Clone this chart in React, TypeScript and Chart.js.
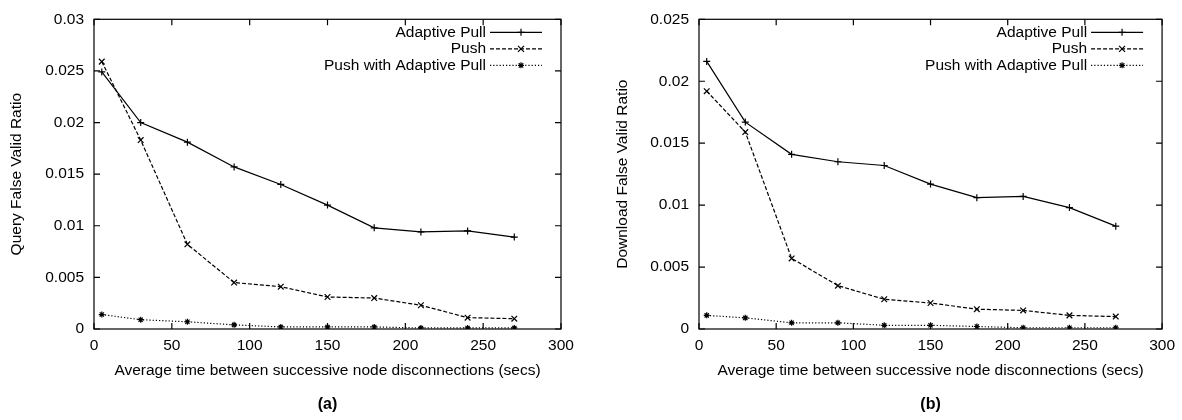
import React, { useEffect, useRef } from "react";
import { Chart, registerables } from "chart.js";

Chart.register(...registerables);

// ---------- data ----------
const xValues = [5, 30, 60, 90, 120, 150, 180, 210, 240, 270];
const seriesLabels = ["Adaptive Pull", "Push", "Push with Adaptive Pull"];

const queryAdaptivePull = [0.0249, 0.02, 0.0181, 0.0157, 0.014, 0.012, 0.0098, 0.0094, 0.0095, 0.0089];
const queryPush = [0.0259, 0.0183, 0.0082, 0.0045, 0.0041, 0.0031, 0.003, 0.0023, 0.0011, 0.001];
const queryPushAdaptive = [0.0014, 0.0009, 0.0007, 0.0004, 0.0002, 0.0002, 0.0002, 0.0001, 0.0001, 0.0001];

const downloadAdaptivePull = [0.0216, 0.0167, 0.0141, 0.0135, 0.0132, 0.0117, 0.0106, 0.0107, 0.0098, 0.0083];
const downloadPush = [0.0192, 0.0159, 0.0057, 0.0035, 0.0024, 0.0021, 0.0016, 0.0015, 0.0011, 0.001];
const downloadPushAdaptive = [0.0011, 0.0009, 0.0005, 0.0005, 0.0003, 0.0003, 0.0002, 0.0001, 0.0001, 0.0001];

const xTicks = [0, 50, 100, 150, 200, 250, 300];
const yTicksQuery = [0, 0.005, 0.01, 0.015, 0.02, 0.025, 0.03];
const yTicksDownload = [0, 0.005, 0.01, 0.015, 0.02, 0.025];

const xTitle = "Average time between successive node disconnections (secs)";
const yTitleQuery = "Query False Valid Ratio";
const yTitleDownload = "Download False Valid Ratio";
const captionA = "(a)";
const captionB = "(b)";

const FONT = "'Liberation Sans', Arial, Helvetica, sans-serif";
const FS = 15.5;

type Marker = "cross" | "crossRot" | "star";

function drawMarker(ctx: CanvasRenderingContext2D, style: Marker, x: number, y: number, r: number) {
  ctx.beginPath();
  if (style === "cross" || style === "star") {
    ctx.moveTo(x - r, y);
    ctx.lineTo(x + r, y);
    ctx.moveTo(x, y - r);
    ctx.lineTo(x, y + r);
  }
  if (style === "crossRot" || style === "star") {
    const d = r * 0.75;
    ctx.moveTo(x - d, y - d);
    ctx.lineTo(x + d, y + d);
    ctx.moveTo(x - d, y + d);
    ctx.lineTo(x + d, y - d);
  }
  ctx.stroke();
}

const gnuplotPlugin = {
  id: "gnuplotFrame",
  afterDraw(chart: any, _args: any, opts: any) {
    const { ctx, chartArea: a, scales } = chart;
    ctx.save();
    ctx.strokeStyle = "#000";
    ctx.lineWidth = 1.2;
    ctx.setLineDash([]);
    ctx.strokeRect(a.left, a.top, a.right - a.left, a.bottom - a.top);
    const tl = 6;
    ctx.beginPath();
    for (const t of scales.x.ticks) {
      const px = scales.x.getPixelForValue(t.value);
      ctx.moveTo(px, a.bottom);
      ctx.lineTo(px, a.bottom - tl);
      ctx.moveTo(px, a.top);
      ctx.lineTo(px, a.top + tl);
    }
    for (const t of scales.y.ticks) {
      const py = scales.y.getPixelForValue(t.value);
      ctx.moveTo(a.left, py);
      ctx.lineTo(a.left + tl, py);
      ctx.moveTo(a.right, py);
      ctx.lineTo(a.right - tl, py);
    }
    ctx.stroke();

    // legend (gnuplot style)
    ctx.font = `${FS}px ${FONT}`;
    ctx.fillStyle = "#000";
    ctx.textAlign = "right";
    ctx.textBaseline = "middle";
    chart.data.datasets.forEach((ds: any, i: number) => {
      const y = a.top + 13 + i * 16.5;
      ctx.fillText(ds.label, a.right - 75, y);
      ctx.lineWidth = ds.borderWidth;
      ctx.setLineDash(ds.borderDash || []);
      ctx.beginPath();
      ctx.moveTo(a.right - 71, y);
      ctx.lineTo(a.right - 19, y);
      ctx.stroke();
      ctx.setLineDash([]);
      drawMarker(ctx, ds.pointStyle, a.right - 40, y, ds.pointRadius);
    });

    // caption
    if (opts && opts.caption) {
      ctx.font = `bold 16px ${FONT}`;
      ctx.textAlign = "center";
      ctx.textBaseline = "middle";
      ctx.fillText(opts.caption, (a.left + a.right) / 2, 405);
    }
    ctx.restore();
  },
};

function makeDatasets(ap: number[], push: number[], pap: number[]) {
  const toPts = (arr: number[]) => arr.map((v, i) => ({ x: xValues[i], y: v }));
  const common = {
    borderColor: "#000",
    backgroundColor: "#000",
    pointBorderColor: "#000",
    pointBackgroundColor: "#000",
    borderWidth: 1.2,
    pointBorderWidth: 1.2,
    fill: false,
    tension: 0,
  };
  return [
    { ...common, label: seriesLabels[0], data: toPts(ap), pointStyle: "cross", pointRadius: 3.5, borderDash: [] },
    { ...common, label: seriesLabels[1], data: toPts(push), pointStyle: "crossRot", pointRadius: 4, borderDash: [4, 2] },
    { ...common, label: seriesLabels[2], data: toPts(pap), pointStyle: "star", pointRadius: 3, borderDash: [1.2, 2] },
  ];
}

interface PanelProps {
  datasets: any[];
  yTicks: number[];
  yTitle: string;
  caption: string;
  axisWidth: number;
  rightPad: number;
  yTitlePad: number;
}

function Panel({ datasets, yTicks, yTitle, caption, axisWidth, rightPad, yTitlePad }: PanelProps) {
  const ref = useRef<HTMLCanvasElement | null>(null);
  useEffect(() => {
    if (!ref.current) return;
    const chart = new Chart(ref.current, {
      type: "line",
      data: { datasets },
      plugins: [gnuplotPlugin],
      options: {
        responsive: false,
        animation: false,
        devicePixelRatio: 1,
        layout: { padding: { left: 0, right: rightPad, top: 17, bottom: 0 } },
        plugins: {
          legend: { display: false },
          tooltip: { enabled: false },
          gnuplotFrame: { caption },
        } as any,
        scales: {
          x: {
            type: "linear",
            min: xTicks[0],
            max: xTicks[xTicks.length - 1],
            afterBuildTicks: (s: any) => {
              s.ticks = xTicks.map((v) => ({ value: v }));
            },
            afterFit: (s: any) => {
              s.height = 91;
            },
            grid: { display: false, drawTicks: false },
            border: { display: false },
            ticks: { color: "#000", padding: 7, font: { family: FONT, size: FS }, maxRotation: 0, autoSkip: false },
            title: {
              display: true,
              text: xTitle,
              color: "#000",
              font: { family: FONT, size: FS },
              padding: { top: 0, bottom: 39.7 },
            },
          },
          y: {
            type: "linear",
            min: yTicks[0],
            max: yTicks[yTicks.length - 1],
            afterBuildTicks: (s: any) => {
              s.ticks = yTicks.map((v) => ({ value: v }));
            },
            afterFit: (s: any) => {
              s.width = axisWidth;
            },
            grid: { display: false, drawTicks: false },
            border: { display: false },
            ticks: {
              color: "#000",
              padding: 10,
              font: { family: FONT, size: FS },
              autoSkip: false,
              callback: (v: any) => String(Number(Number(v).toFixed(4))),
            },
            title: {
              display: true,
              text: yTitle,
              color: "#000",
              font: { family: FONT, size: FS },
              padding: { top: yTitlePad, bottom: 0 },
            },
          },
        },
      } as any,
    });
    return () => chart.destroy();
  }, []);
  return <canvas ref={ref} width={591} height={420} style={{ display: "block", width: 591, height: 420 }} />;
}

export default function App() {
  return (
    <div style={{ position: "fixed", left: 0, top: 0, width: 1182, height: 420, background: "#fff", display: "flex" }}>
      <Panel
        datasets={makeDatasets(queryAdaptivePull, queryPush, queryPushAdaptive)}
        yTicks={yTicksQuery}
        yTitle={yTitleQuery}
        caption={captionA}
        axisWidth={94}
        rightPad={30}
        yTitlePad={7.7}
      />
      <Panel
        datasets={makeDatasets(downloadAdaptivePull, downloadPush, downloadPushAdaptive)}
        yTicks={yTicksDownload}
        yTitle={yTitleDownload}
        caption={captionB}
        axisWidth={108}
        rightPad={16}
        yTitlePad={22.7}
      />
    </div>
  );
}
